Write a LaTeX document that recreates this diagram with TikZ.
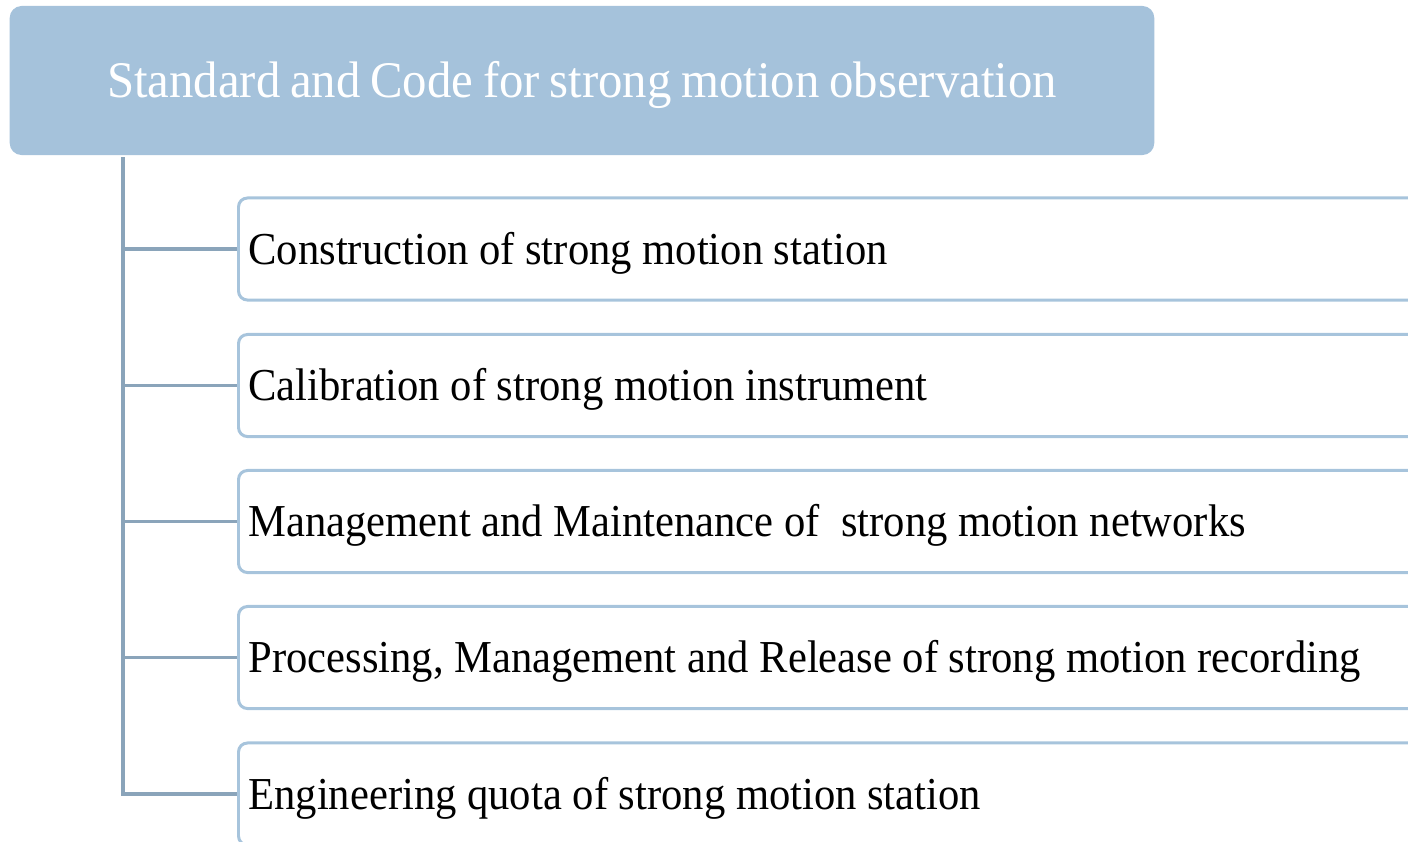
\documentclass[tikz,border=0pt]{standalone}
\usepackage{fontspec}
\setmainfont{Liberation Serif}
\newfontfamily\headfont{Liberation Serif}[FakeStretch=0.950,WordSpace=0.8]
\newfontfamily\itemfont{Liberation Serif}[FakeStretch=0.932]
\usepackage{tikz}
\usepackage{xcolor}
\usetikzlibrary{positioning,calc}
\definecolor{headblue}{RGB}{165,194,219}
\definecolor{edgeblue}{RGB}{167,196,220}
\definecolor{linkgray}{RGB}{138,164,186}

\begin{document}
\begin{tikzpicture}[x=0.01cm,y=-0.01cm,
    headbox/.style={fill=headblue,draw=none,rounded corners=0.12cm,minimum width=11.44cm,minimum height=1.49cm,text height=0.33cm,text depth=0pt,text=white,font=\headfont\fontsize{14.6}{17}\selectfont},
    itembox/.style={draw=edgeblue,line width=0.85pt,fill=white,rounded corners=0.09cm,anchor=west,text width=12.3cm,inner xsep=0.1cm,align=flush left,minimum height=1.02cm,text height=0.3cm,text depth=0pt,font=\itemfont\fontsize{13}{15}\selectfont},
    link/.style={draw=linkgray,line width=1pt}]
  \clip (0,0) rectangle (1408,842);

  \node[headbox] (head) at (582,80.5) {Standard and Code for strong motion observation};

  \node[itembox] (c1) at (237,249) {Construction of strong motion station};
  \node[itembox] (c2) at (237,385.5) {Calibration of strong motion instrument};
  \node[itembox] (c3) at (237,521.5) {Management and Maintenance of\ \ strong motion networks};
  \node[itembox] (c4) at (237,657.5) {Processing, Management and Release of strong motion recording};
  \node[itembox] (c5) at (237,794) {Engineering quota of strong motion station};

  \coordinate (trunk) at (123,157);
  \draw[link] (trunk) |- (c5.west);
  \foreach \k in {1,2,3,4}
    \draw[link] (trunk |- c\k.west) -- (c\k.west);
\end{tikzpicture}
\end{document}
